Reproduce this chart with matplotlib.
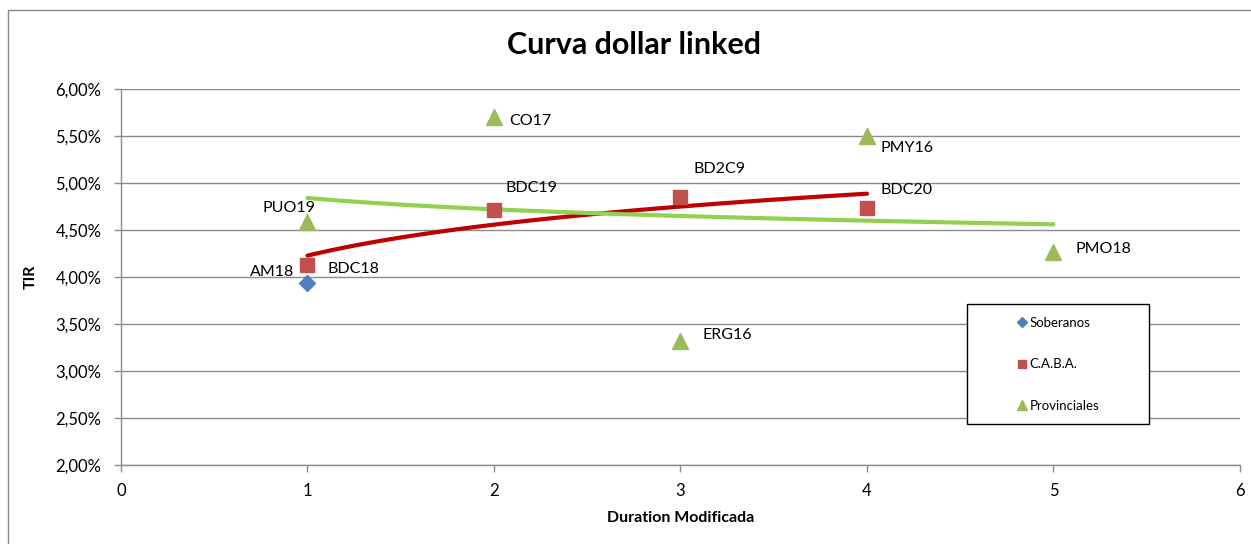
import numpy as np
import matplotlib
matplotlib.use("Agg")
import matplotlib.pyplot as plt
from matplotlib.patches import Rectangle
from matplotlib.ticker import FuncFormatter, MultipleLocator

plt.rcParams['font.family'] = ['Lato', 'DejaVu Sans']

# Data: duration (x) and TIR in % (y)
sob_names = ["AM18"]
sob_x = [1]
sob_y = [3.94]

caba_names = ["BDC18", "BDC19", "BD2C9", "BDC20"]
caba_x = [1, 2, 3, 4]
caba_y = [4.13, 4.71, 4.85, 4.73]

prov_names = ["PUO19", "CO17", "ERG16", "PMY16", "PMO18"]
prov_x = [1, 2, 3, 4, 5]
prov_y = [4.58, 5.70, 3.32, 5.50, 4.27]

# label offsets in pixels (dx, dy, ha)
label_pos = {
    "AM18": (-13, 11, "right"),
    "BDC18": (20, -4, "left"),
    "BDC19": (12, 22, "left"),
    "BD2C9": (13, 28, "left"),
    "BDC20": (14, 18, "left"),
    "PUO19": (-18, 14, "center"),
    "CO17": (15, -4, "left"),
    "ERG16": (22, 6, "left"),
    "PMY16": (14, -12, "left"),
    "PMO18": (22, 3, "left"),
}

fig = plt.figure(figsize=(12.51, 5.44), dpi=100)
ax = fig.add_axes([0.0967, 0.1452, 0.8945, 0.6912])

grid_col = "#8c8c8c"
ax.set_xlim(0, 6)
ax.set_ylim(2, 6)
ax.yaxis.set_major_locator(MultipleLocator(0.5))
ax.xaxis.set_major_locator(MultipleLocator(1))
ax.yaxis.set_major_formatter(FuncFormatter(lambda v, p: f"{v:.2f}%".replace(".", ",")))
ax.grid(axis="y", color=grid_col, linewidth=1)
ax.set_axisbelow(True)
for s in ["top", "right"]:
    ax.spines[s].set_visible(False)
for s in ["left", "bottom"]:
    ax.spines[s].set_color(grid_col)
    ax.spines[s].set_linewidth(1)
ax.tick_params(colors=grid_col, labelcolor="black", labelsize=12, length=5, width=1)
ax.tick_params(axis="y", pad=9)
ax.tick_params(axis="x", pad=8)

# log trendlines, same as Excel's
def log_trend(x, y):
    b, a = np.polyfit(np.log(x), y, 1)
    xs = np.linspace(min(x), max(x), 100)
    return xs, a + b * np.log(xs)

tx, ty = log_trend(caba_x, caba_y)
ax.plot(tx, ty, color="#C00000", linewidth=3, solid_capstyle="round", zorder=3)
tx, ty = log_trend(prov_x, prov_y)
ax.plot(tx, ty, color="#92D050", linewidth=3, solid_capstyle="round", zorder=3)

ax.plot(sob_x, sob_y, linestyle="none", marker="D", markersize=8, color="#4F81BD", label="Soberanos", zorder=4)
ax.plot(caba_x, caba_y, linestyle="none", marker="s", markersize=10, color="#C0504D", label="C.A.B.A.", zorder=4)
ax.plot(prov_x, prov_y, linestyle="none", marker="^", markersize=11, color="#9BBB59", label="Provinciales", zorder=4)

for names, xs, ys in [(sob_names, sob_x, sob_y), (caba_names, caba_x, caba_y), (prov_names, prov_x, prov_y)]:
    for n, x, y in zip(names, xs, ys):
        dx, dy, ha = label_pos[n]
        ax.annotate(n, (x, y), xytext=(dx, dy), textcoords="offset pixels",
                    ha=ha, va="center", fontsize=11.5, zorder=5)

fig.text(634 / 1251, 1 - 45 / 544, "Curva dollar linked", fontsize=22, fontweight="bold",
         ha="center", va="center")
ax.set_xlabel("Duration Modificada", fontsize=11.5, fontweight="bold")
ax.set_ylabel("TIR", fontsize=11.5, fontweight="bold")
ax.xaxis.set_label_coords(0.5, -0.122)
ax.yaxis.set_label_coords(-0.074, 0.5)

# legend box
ax.add_patch(Rectangle((0.756, 0.109), 0.163, 0.319, transform=ax.transAxes,
                       facecolor="white", edgecolor="black", linewidth=1, zorder=6))
leg = ax.legend(loc="upper left", bbox_to_anchor=(0.7955, 0.412), frameon=False,
                fontsize=9.5, handlelength=0.6, handletextpad=0.3, labelspacing=2.25,
                markerscale=0.6, borderpad=0)
leg.set_zorder(7)

# outer chart border
fig.add_artist(Rectangle((8 / 1251, -0.05), 1.1, 1.0316, transform=fig.transFigure,
                         facecolor="none", edgecolor="#868686", linewidth=1))

fig.savefig("out.png", dpi=100)
